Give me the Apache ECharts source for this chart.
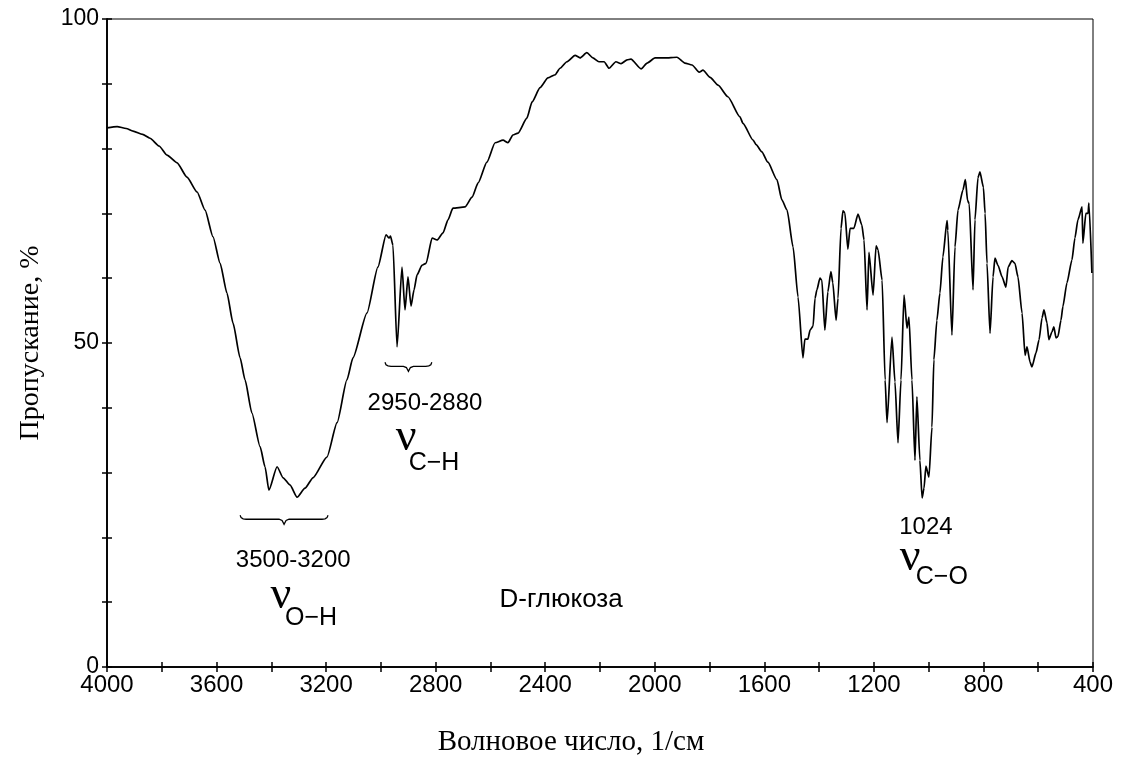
<!DOCTYPE html>
<html>
<head>
<meta charset="utf-8">
<script src="https://cdn.jsdelivr.net/npm/echarts/dist/echarts.min.js"></script>
<style>
  html, body { margin: 0; padding: 0; background: #fff; }
  #chart { width: 1122px; height: 760px; }
</style>
</head>
<body>
<div id="chart"></div>
<script>
// IR spectrum of D-glucose: wavenumber (1/cm) and transmittance (%)
const wavenumbers = [
  4000, 3963, 3930, 3905, 3870, 3843, 3810, 3781, 3744, 3708, 3671, 3642, 3613, 3587, 3562, 3540,
  3514, 3496, 3471, 3441, 3423, 3409, 3379, 3357, 3332, 3306, 3277, 3248, 3197, 3160, 3124, 3102,
  3051, 3011, 2981, 2970, 2965, 2956, 2941, 2923, 2912, 2901, 2890, 2879, 2868, 2850, 2835, 2813,
  2795, 2773, 2755, 2737, 2693, 2667, 2645, 2613, 2583, 2554, 2536, 2518, 2499, 2467, 2448, 2419,
  2390, 2364, 2346, 2321, 2291, 2273, 2248, 2226, 2204, 2185, 2167, 2142, 2123, 2101, 2087, 2050,
  2028, 1999, 1963, 1919, 1890, 1864, 1838, 1824, 1798, 1769, 1733, 1689, 1678, 1641, 1630, 1609,
  1587, 1554, 1536, 1517, 1495, 1477, 1459, 1452, 1441, 1433, 1422, 1415, 1408, 1397, 1390, 1379,
  1368, 1357, 1350, 1338, 1331, 1320, 1313, 1306, 1295, 1287, 1273, 1258, 1244, 1236, 1225, 1218,
  1203, 1192, 1185, 1170, 1159, 1152, 1134, 1123, 1112, 1101, 1090, 1079, 1072, 1061, 1050, 1043,
  1032, 1024, 1017, 1010, 999, 988, 981, 970, 959, 948, 933, 930, 915, 904, 893, 875,
  866, 858, 852, 838, 831, 820, 813, 800, 794, 787, 776, 765, 758, 747, 732, 718,
  710, 696, 685, 674, 659, 648, 641, 630, 623, 608, 597, 586, 579, 568, 561, 550,
  543, 535, 528, 517, 510, 495, 477, 466, 455, 440, 437, 426, 418, 415, 404
];
const transmittance = [
  83.2, 83.4, 83.1, 82.7, 82.2, 81.6, 80.4, 79.0, 77.8, 75.6, 73.3, 70.5, 66.4, 62.3, 57.7, 53.1,
  47.7, 44.3, 39.2, 34.0, 30.9, 27.3, 30.9, 29.2, 28.1, 26.2, 27.6, 29.2, 32.4, 37.7, 44.3, 47.7,
  54.6, 61.7, 66.7, 66.2, 66.5, 65.1, 49.4, 61.7, 55.1, 60.2, 55.7, 58.2, 60.5, 62.0, 62.3, 66.2,
  65.9, 67.0, 69.0, 70.8, 71.0, 72.5, 74.7, 77.9, 80.9, 81.3, 80.9, 82.1, 82.4, 84.7, 87.2, 89.4,
  90.9, 91.4, 92.4, 93.4, 94.4, 94.0, 94.8, 94.0, 93.4, 93.4, 92.4, 93.4, 93.1, 93.7, 93.8, 92.3,
  93.2, 94.0, 94.0, 94.1, 93.2, 92.9, 91.8, 92.1, 91.0, 89.8, 88.0, 84.9, 83.9, 81.3, 80.6, 79.5,
  77.9, 75.2, 72.1, 70.5, 64.8, 57.1, 47.7, 50.6, 50.6, 52.0, 52.6, 56.9, 58.2, 60.0, 59.7, 52.0,
  57.9, 61.0, 59.3, 53.5, 56.9, 67.7, 70.4, 70.1, 64.5, 67.7, 67.7, 69.9, 68.2, 65.9, 55.1, 64.0,
  57.4, 65.0, 64.4, 59.7, 44.3, 37.7, 50.9, 44.0, 34.6, 44.3, 57.4, 52.3, 54.0, 44.3, 31.9, 41.7,
  31.9, 26.1, 27.6, 31.0, 29.3, 37.0, 47.4, 53.5, 57.7, 63.3, 68.9, 67.4, 51.2, 64.8, 70.5, 73.6,
  75.2, 72.0, 71.5, 58.2, 69.0, 75.5, 76.4, 74.0, 70.0, 62.3, 51.5, 60.2, 63.1, 62.0, 60.2, 58.6,
  61.7, 62.7, 62.3, 60.2, 54.6, 48.1, 49.4, 47.1, 46.3, 48.5, 50.5, 53.9, 55.1, 53.1, 50.5, 51.7,
  52.5, 50.8, 51.0, 53.5, 55.6, 59.3, 62.8, 66.2, 69.0, 71.0, 65.4, 70.0, 70.0, 71.6, 60.8
];

// Axis ranges and labels
const xRange = [400, 4000];
const xStep = 400;
const yRange = [0, 100];
const yLabelValues = [0, 50, 100];
const xTitle = 'Волновое число, 1/см';
const yTitle = 'Пропускание, %';
const sampleName = 'D-глюкоза';

// Band annotations: bracket span (1/cm), bracket level (%), range text, bond subscript
const bracketSpans = [[3514, 3193], [2985, 2814]];
const bracketLevels = [22.8, 46.4];
const bandRanges = ['3500-3200', '2950-2880', '1024'];
const bandRangePos = [[3320, 16.5], [2839, 40.7], [1010, 21.6]];
const bandBonds = ['O\u2212H', 'C\u2212H', 'C\u2212O'];
const nuPos = [[3365, 11.0], [2908, 35.3], [1068, 16.8]];
const bondPos = [[3255, 7.6], [2806, 31.5], [952, 13.9]];
const samplePos = [2342, 10.4];
const xTitlePos = [2306, -11.6];

const SANS = '"Liberation Sans", Arial, sans-serif';
const SERIF = '"Liberation Serif", "Times New Roman", serif';

const chart = echarts.init(document.getElementById('chart'), null, { renderer: 'canvas' });

const spectrum = wavenumbers.map((w, i) => [w, transmittance[i]]);

function baseX(extra) {
  return Object.assign({
    type: 'value', min: xRange[0], max: xRange[1], interval: xStep, inverse: true,
    position: 'bottom', splitLine: { show: false },
    axisLine: { show: true, onZero: false, lineStyle: { color: '#000', width: 1.5 } },
    axisTick: { show: true, length: 5, lineStyle: { color: '#000', width: 1.5 } },
    minorTick: { show: true, splitNumber: 2, length: 5, lineStyle: { color: '#000', width: 1.5 } }
  }, extra);
}
function baseY(extra) {
  return Object.assign({
    type: 'value', min: yRange[0], max: yRange[1], interval: 50,
    position: 'left', splitLine: { show: false },
    axisLine: { show: true, onZero: false, lineStyle: { color: '#000', width: 1.5 } },
    axisTick: { show: true, length: 5, lineStyle: { color: '#000', width: 1.5 } },
    minorTick: { show: true, splitNumber: 5, length: 5, lineStyle: { color: '#000', width: 1.5 } }
  }, extra);
}

chart.setOption({
  animation: false,
  backgroundColor: '#fff',
  grid: { left: 107, right: 29, top: 19, bottom: 93, show: true, borderColor: '#000', borderWidth: 1, containLabel: false },
  xAxis: [
    baseX({
      axisLabel: { show: true, color: '#000', fontFamily: SANS, fontSize: 24, margin: 6, formatter: v => String(v) }
    }),
    baseX({
      axisTick: { show: true, inside: true, length: 5, lineStyle: { color: '#000', width: 1.5 } },
      axisLabel: { show: false }
    })
  ],
  yAxis: [
    baseY({
      name: yTitle, nameLocation: 'middle', nameGap: 62,
      nameTextStyle: { fontFamily: SERIF, fontSize: 28, color: '#000' },
      axisLabel: {
        show: true, color: '#000', fontFamily: SANS, fontSize: 23, margin: 8,
        formatter: v => (yLabelValues.indexOf(v) >= 0 ? String(v) : '')
      }
    }),
    baseY({
      axisTick: { show: true, inside: true, length: 5, lineStyle: { color: '#000', width: 1.5 } },
      axisLabel: { show: false }
    })
  ],
  series: [{
    type: 'line', xAxisIndex: 0, yAxisIndex: 0, data: spectrum,
    showSymbol: false, smooth: 0.2, smoothMonotone: 'x',
    lineStyle: { color: '#000', width: 1.7 }
  }]
});

// Annotations placed in data coordinates
function px(p) { return chart.convertToPixel({ xAxisIndex: 0, yAxisIndex: 0 }, p); }

function bracket(span, level) {
  const a = px([span[0], level]), b = px([span[1], level]);
  const xl = a[0], xr = b[0], y = a[1], xc = (xl + xr) / 2;
  return {
    type: 'polyline', silent: true,
    shape: { points: [
      [xl, y - 4], [xl + 1, y - 1.6], [xl + 3, y - 0.4], [xl + 6, y],
      [xc - 5, y], [xc - 2, y + 1.2], [xc, y + 5], [xc + 2, y + 1.2], [xc + 5, y],
      [xr - 6, y], [xr - 3, y - 0.4], [xr - 1, y - 1.6], [xr, y - 4]
    ] },
    style: { stroke: '#000', lineWidth: 1.3, fill: null }
  };
}
function label(text, p, font) {
  const q = px(p);
  return {
    type: 'text', silent: true, x: q[0], y: q[1],
    style: { text: text, fill: '#000', font: font, align: 'center', verticalAlign: 'middle' }
  };
}

const elements = [];
bracketSpans.forEach((s, i) => elements.push(bracket(s, bracketLevels[i])));
bandRanges.forEach((t, i) => {
  elements.push(label(t, bandRangePos[i], '24px ' + SANS));
  elements.push(label('\u03bd', nuPos[i], '46px ' + SERIF));
  elements.push(label(bandBonds[i], bondPos[i], '25px ' + SANS));
});
elements.push(label(sampleName, samplePos, '26px ' + SANS));
elements.push(label(xTitle, xTitlePos, '29px ' + SERIF));

chart.setOption({ graphic: { elements: elements } });
</script>
</body>
</html>
